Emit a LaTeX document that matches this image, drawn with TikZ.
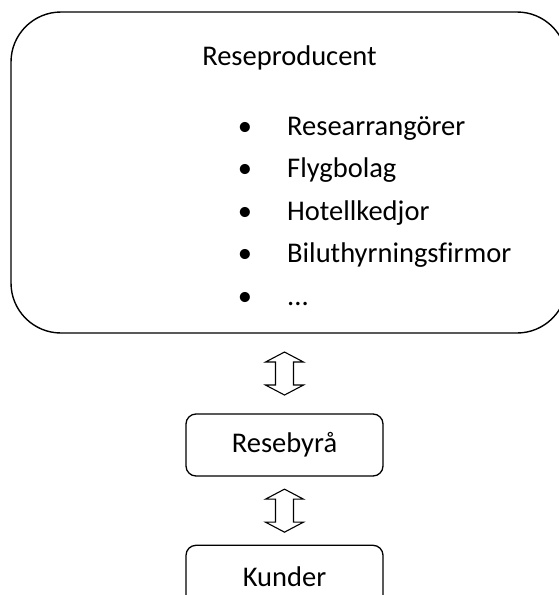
\documentclass[tikz,border=0pt]{standalone}
\usepackage{fontspec}
\setmainfont{Carlito}[Ligatures={TeX,NoCommon}]
\usetikzlibrary{positioning,calc}
\newcommand{\etcdots}{...}
\tikzset{
  bigbox/.style={draw, line width=1.4pt, rounded corners=50pt, minimum width=556pt, minimum height=321pt},
  box/.style={draw, line width=1.3pt, rounded corners=10pt, minimum width=197pt, minimum height=62pt, font=\fontsize{28.5}{34}\selectfont},
  txt/.style={font=\fontsize{28.5}{34}\selectfont, inner sep=0pt},
  pics/updown/.style={code={
    \draw[line width=1.1pt, line join=miter]
      (0,-21.5) -- (19,-11.5) -- (9,-11.5) -- (9,11.5) -- (19,11.5) -- (0,21.5)
      -- (-19,11.5) -- (-9,11.5) -- (-9,-11.5) -- (-19,-11.5) -- cycle;
  }}
}
\begin{document}
\begin{tikzpicture}[x=1pt,y=-1pt]
  \useasboundingbox (0,0) rectangle (559,595);
  \clip (0,0) rectangle (559,595);

  % producers
  \node[bigbox] (prod) at (289,172.5) {};
  \node[txt, anchor=base] (title) at (289.5,65) {Reseproducent};
  \foreach \lab [count=\i] in {Researrangörer, Flygbolag, Hotellkedjor, Biluthyrningsfirmor, \etcdots} {
    \node[txt, anchor=base] (bul\i) at (245,{135+42.6*(\i-1)}) {\textbullet};
    \node[txt, anchor=base west] (item\i) at (287,{135+42.6*(\i-1)}) {\lab};
  }

  % agency and customers
  \node[box] (byra) at (284.5,445) {Resebyrå};
  \node[box, below=68pt of byra] (kund) {Kunder};

  \coordinate (a1) at ($(prod.south -| byra.north)!0.5!(byra.north)$);
  \coordinate (a2) at ($(byra.south)!0.5!(kund.north)$);
  \path (a1) pic {updown} (a2) pic {updown};
\end{tikzpicture}
\end{document}
